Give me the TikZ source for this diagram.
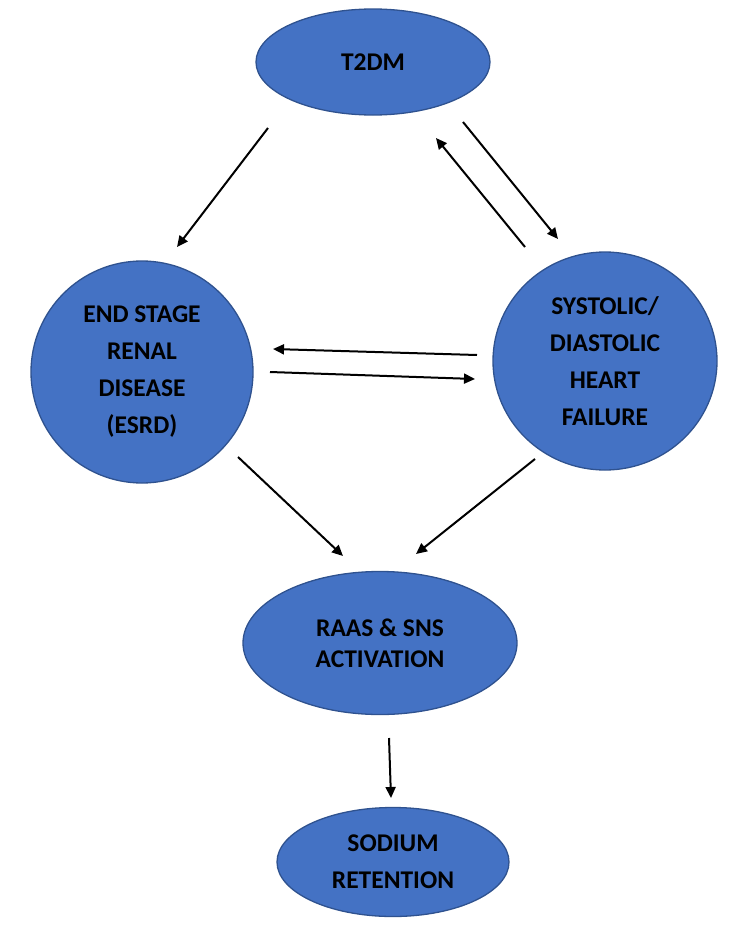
\documentclass[tikz,border=0pt]{standalone}
\usepackage{fontspec}
\setmainfont{Carlito}
\usetikzlibrary{shapes.geometric,arrows.meta}
\definecolor{blobfill}{HTML}{4472C4}
\definecolor{blobline}{HTML}{2F528F}
\begin{document}
\begin{tikzpicture}[x=1pt,y=-1pt,
  blob/.style={ellipse,fill=blobfill,draw=blobline,line width=1.3pt,inner sep=0pt,align=center,
    font=\bfseries\fontsize{25.5}{37}\selectfont,text=black},
  arr/.style={draw=black,line width=2pt,-{Triangle[length=11pt,width=10pt]}}]
\useasboundingbox (0,0) rectangle (750,937);
\node[blob,minimum width=234pt,minimum height=106pt] (t2dm) at (373,62) {T2DM};
\node[blob,minimum width=222pt,minimum height=222pt] (esrd) at (142,372) {END STAGE\\RENAL\\DISEASE\\(ESRD)};
\node[blob,minimum width=224pt,minimum height=218pt] (hf) at (605,361) {SYSTOLIC/\\DIASTOLIC\\HEART\\FAILURE};
\node[blob,minimum width=274pt,minimum height=143pt,font=\bfseries\fontsize{25.5}{31}\selectfont] (raas) at (380,643) {RAAS \& SNS\\ACTIVATION};
\node[blob,minimum width=232pt,minimum height=109pt] (na) at (393,862) {SODIUM\\RETENTION};
% connector end points
\coordinate (a1s) at (268,128); \coordinate (a1e) at (177,247);
\coordinate (a2s) at (463,122); \coordinate (a2e) at (558,239);
\coordinate (a3s) at (525,247); \coordinate (a3e) at (436,138);
\coordinate (a4s) at (477,355); \coordinate (a4e) at (273,349);
\coordinate (a5s) at (270,372); \coordinate (a5e) at (475,379);
\coordinate (a6s) at (238,457); \coordinate (a6e) at (343,556);
\coordinate (a7s) at (535,459); \coordinate (a7e) at (416,554);
\coordinate (a8s) at (389,738); \coordinate (a8e) at (391,798);
\draw[arr] (a1s) -- (a1e);
\draw[arr] (a2s) -- (a2e);
\draw[arr] (a3s) -- (a3e);
\draw[arr] (a4s) -- (a4e);
\draw[arr] (a5s) -- (a5e);
\draw[arr] (a6s) -- (a6e);
\draw[arr] (a7s) -- (a7e);
\draw[arr] (a8s) -- (a8e);
\end{tikzpicture}
\end{document}
